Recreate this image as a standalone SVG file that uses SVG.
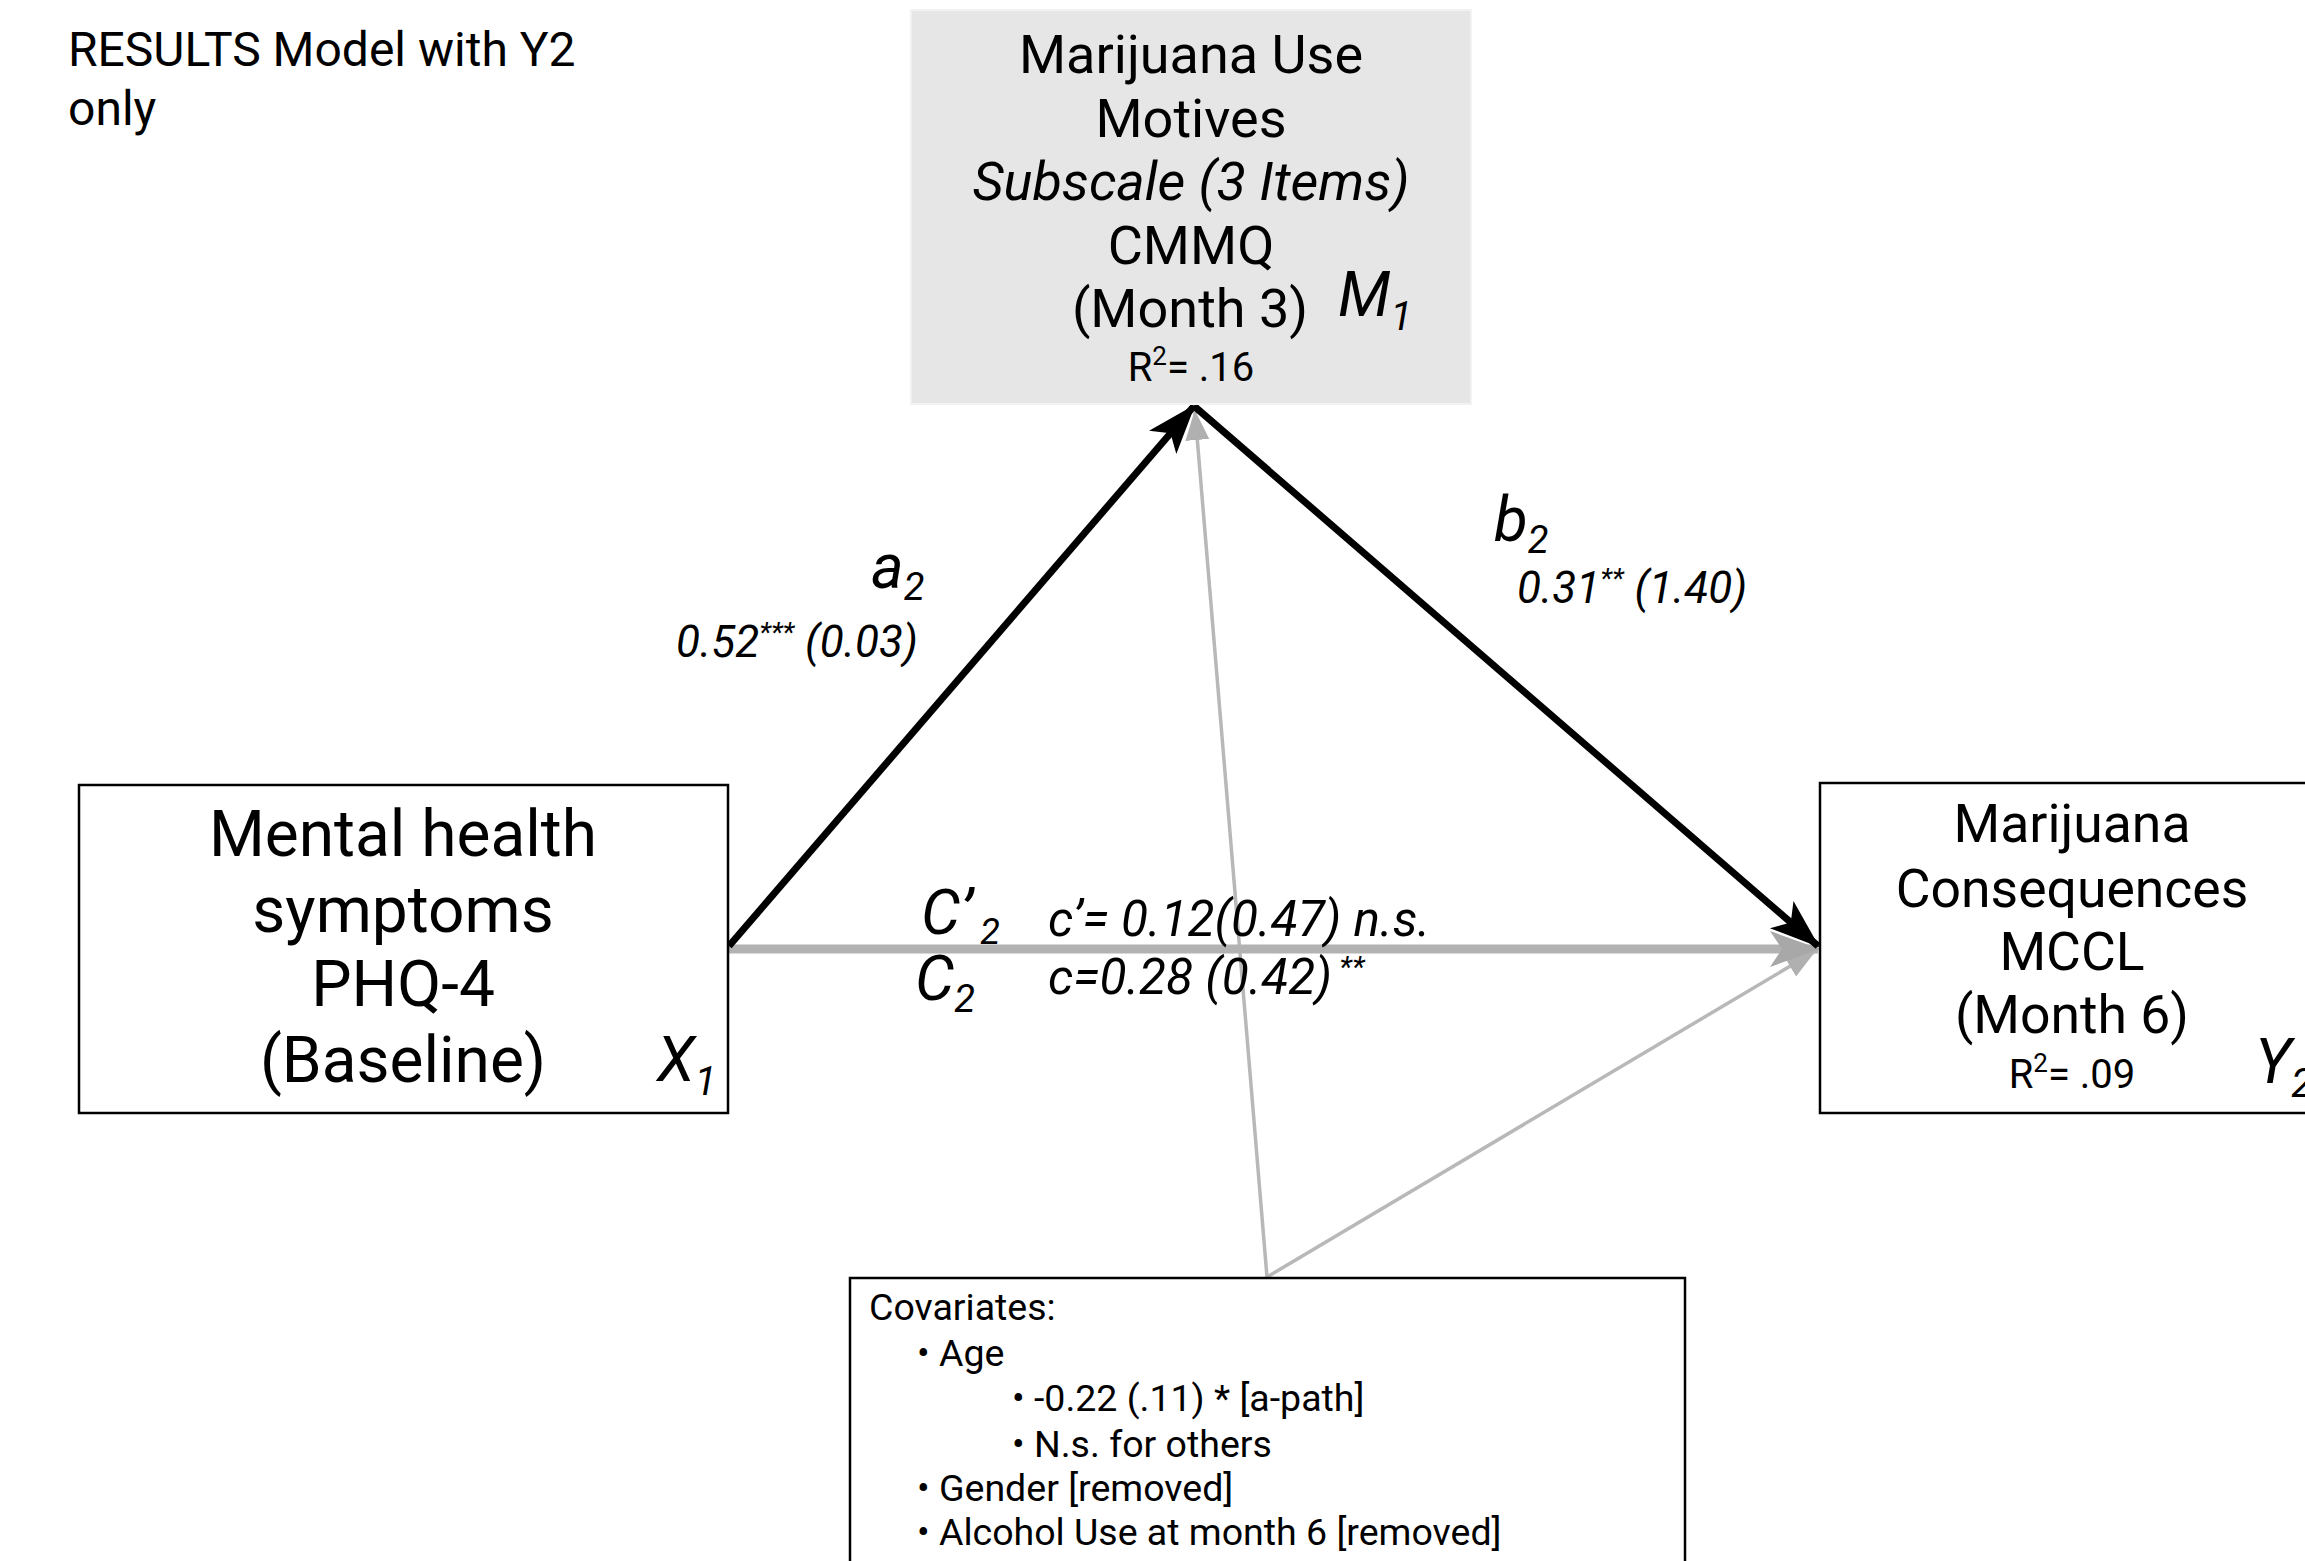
<svg xmlns="http://www.w3.org/2000/svg" width="2305" height="1561" viewBox="0 0 2305 1561">
<style>
text{font-family:Roboto,"Liberation Sans",sans-serif;fill:#000}
.box{fill:#fff;stroke:#000;stroke-width:2.5}
.mbox{fill:#e6e6e6;stroke:#f2f2f2;stroke-width:2}
.big{font-size:54px;text-anchor:middle}
.ybig{font-size:53.5px;text-anchor:middle}
.xl{font-size:64px;text-anchor:middle}
.r2{font-size:40px;text-anchor:middle}
.it{font-style:italic}
.lab{font-size:62px;font-style:italic}
.num{font-size:44px;font-style:italic}
.cnum{font-size:49.5px;font-style:italic}
.cov{font-size:37.5px}
.black{stroke:#000;stroke-width:7;fill:none}
.gray{stroke:#b2b2b2;stroke-width:9;fill:none}
.thin{stroke:#b8b8b8;stroke-width:3.5;fill:none}
</style>
<defs>
<marker id="ab" markerUnits="userSpaceOnUse" markerWidth="50" markerHeight="40" viewBox="0 0 50 40" refX="48" refY="20" orient="auto">
<path d="M0,2 L50,20 L0,38 L12,20 z" fill="#000"/>
</marker>
<marker id="ag" markerUnits="userSpaceOnUse" markerWidth="50" markerHeight="40" viewBox="0 0 50 40" refX="48" refY="20" orient="auto">
<path d="M0,2 L50,20 L0,38 L12,20 z" fill="#a8a8a8"/>
</marker>
<marker id="agt" markerUnits="userSpaceOnUse" markerWidth="30" markerHeight="30" viewBox="0 0 30 30" refX="28" refY="15" orient="auto">
<path d="M0,3 L30,15 L0,27 z" fill="#b0b0b0"/>
</marker>
</defs>

<text x="68" y="66" style="font-size:48px">RESULTS Model with Y2</text>
<text x="68" y="125" style="font-size:48px">only</text>

<g id="connectors">
<line class="thin" x1="1267" y1="1277" x2="1195" y2="412" marker-end="url(#agt)"/>
<line class="thin" x1="1267" y1="1277" x2="1814" y2="952" marker-end="url(#agt)"/>
<line class="gray" x1="729" y1="949" x2="1818" y2="949" marker-end="url(#ag)"/>
<line class="black" x1="729" y1="946" x2="1194" y2="406" marker-end="url(#ab)"/>
<line class="black" x1="1194" y1="406" x2="1818" y2="946" marker-end="url(#ab)"/>
</g>

<g id="node-M">
<rect class="mbox" x="911" y="10" width="560" height="394"/>
<text class="big" x="1191" y="73">Marijuana Use</text>
<text class="big" x="1191" y="137">Motives</text>
<text class="big it" x="1191" y="200">Subscale (3 Items)</text>
<text class="big" x="1191" y="264">CMMQ</text>
<text class="big" x="1190" y="327">(Month 3)</text>
<text class="r2" x="1191" y="381">R<tspan dy="-16" style="font-size:26px">2</tspan><tspan dy="16">= .16</tspan></text>
<text class="lab" x="1338" y="316">M<tspan dy="14" style="font-size:40px">1</tspan></text>
</g>

<g id="node-X">
<rect class="box" x="79" y="785" width="649" height="328"/>
<text class="xl" x="403" y="856">Mental health</text>
<text class="xl" x="403" y="932">symptoms</text>
<text class="xl" x="403" y="1006">PHQ-4</text>
<text class="xl" x="403" y="1082">(Baseline)</text>
<text class="lab" x="657" y="1081">X<tspan dy="14" style="font-size:40px">1</tspan></text>
</g>

<g id="node-Y">
<rect class="box" x="1820" y="783" width="500" height="330"/>
<text class="ybig" x="2072" y="842">Marijuana</text>
<text class="ybig" x="2072" y="907">Consequences</text>
<text class="ybig" x="2072" y="970">MCCL</text>
<text class="ybig" x="2072" y="1033">(Month 6)</text>
<text class="r2" x="2072" y="1088">R<tspan dy="-16" style="font-size:26px">2</tspan><tspan dy="16">= .09</tspan></text>
<text class="lab" x="2255" y="1083">Y<tspan dy="14" style="font-size:40px">2</tspan></text>
</g>

<g id="labels">
<text class="lab" x="871" y="588">a<tspan dy="12" style="font-size:38px">2</tspan></text>
<text class="num" x="676" y="657">0.52<tspan dy="-15" style="font-size:28px">***</tspan><tspan dy="15"> (0.03)</tspan></text>
<text class="lab" x="1494" y="541">b<tspan dy="12" style="font-size:38px">2</tspan></text>
<text class="num" x="1517" y="603">0.31<tspan dy="-15" style="font-size:28px">**</tspan><tspan dy="15"> (1.40)</tspan></text>
<text class="lab" x="921" y="934">C’<tspan dx="8" dy="10" style="font-size:36px">2</tspan></text>
<text class="cnum" x="1048" y="936">c’= 0.12(0.47) n.s.</text>
<text class="lab" x="915" y="1000">C<tspan dy="12" style="font-size:38px">2</tspan></text>
<text class="cnum" x="1048" y="994">c=0.28 (0.42)<tspan dy="-17" style="font-size:30px"> **</tspan></text>
</g>

<g id="node-covariates">
<rect class="box" x="850" y="1278" width="835" height="300"/>
<text class="cov" x="869" y="1320">Covariates:</text>
<text class="cov" x="917" y="1366">• Age</text>
<text class="cov" x="1012" y="1411">• -0.22 (.11) * [a-path]</text>
<text class="cov" x="1012" y="1457">• N.s. for others</text>
<text class="cov" x="917" y="1501">• Gender [removed]</text>
<text class="cov" x="917" y="1545">• Alcohol Use at month 6 [removed]</text>
</g>
</svg>
